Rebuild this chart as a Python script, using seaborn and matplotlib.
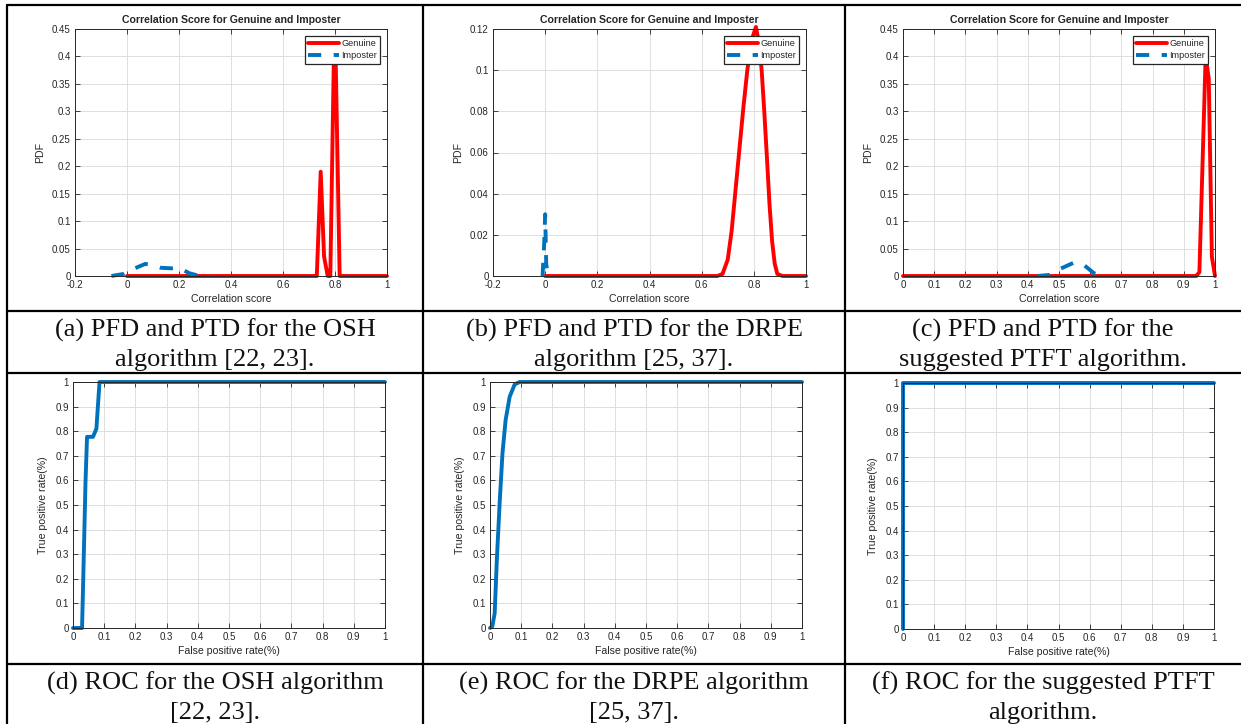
import numpy as np
import pandas as pd
import matplotlib
matplotlib.use("Agg")
import matplotlib.pyplot as plt
from matplotlib.lines import Line2D
from matplotlib.ticker import FixedLocator, FuncFormatter
import seaborn as sns

# ---------------- data ----------------
# (a) OSH score distributions
osh_gen_x = [0.0, 0.73, 0.745, 0.758, 0.772, 0.782, 0.796, 0.802, 0.818, 1.0]
osh_gen_y = [0.0, 0.0, 0.19, 0.035, 0.0, 0.0, 0.41, 0.41, 0.0, 0.0]
osh_imp_x = [-0.06, -0.01, 0.02, 0.07, 0.10, 0.13, 0.17, 0.20, 0.24, 0.28, 0.32]
osh_imp_y = [0.0, 0.004, 0.012, 0.022, 0.020, 0.015, 0.014, 0.015, 0.005, 0.0, 0.0]

# (b) DRPE score distributions
drpe_gen_x = [0.0, 0.66, 0.68, 0.70, 0.715, 0.73, 0.745, 0.76, 0.775, 0.79, 0.808,
              0.82, 0.83, 0.84, 0.85, 0.86, 0.87, 0.88, 0.89, 0.91, 1.0]
drpe_gen_y = [0.0, 0.0, 0.001, 0.008, 0.022, 0.042, 0.062, 0.082, 0.100, 0.114, 0.121,
              0.113, 0.100, 0.080, 0.058, 0.035, 0.017, 0.006, 0.001, 0.0, 0.0]
drpe_imp_x = [-0.010, -0.004, 0.0, 0.004, 0.010]
drpe_imp_y = [0.0, 0.015, 0.030, 0.006, 0.0]

# (c) PTFT score distributions
ptft_gen_x = [0.0, 0.94, 0.95, 0.97, 0.98, 0.99, 1.0]
ptft_gen_y = [0.0, 0.0, 0.007, 0.40, 0.36, 0.035, 0.0]
ptft_imp_x = [0.43, 0.47, 0.50, 0.55, 0.58, 0.61, 0.63, 0.65]
ptft_imp_y = [0.0, 0.002, 0.012, 0.025, 0.020, 0.006, 0.0, 0.0]

# ROC curves
osh_fpr = [0.0, 0.029, 0.032, 0.040, 0.045, 0.064, 0.075, 0.085, 1.0]
osh_tpr = [0.0, 0.0, 0.155, 0.59, 0.777, 0.777, 0.81, 1.0, 1.0]
drpe_fpr = [0.0, 0.0075, 0.015, 0.022, 0.031, 0.040, 0.050, 0.063, 0.079, 0.095, 1.0]
drpe_tpr = [0.0, 0.007, 0.06, 0.28, 0.51, 0.71, 0.845, 0.94, 0.99, 1.0, 1.0]
ptft_fpr = [0.0, 0.0, 1.0]
ptft_tpr = [0.0, 1.0, 1.0]

# tick values
pdf_xticks_wide = [-0.2, 0.0, 0.2, 0.4, 0.6, 0.8, 1.0]
pdf_xticks_unit = [0.0, 0.1, 0.2, 0.3, 0.4, 0.5, 0.6, 0.7, 0.8, 0.9, 1.0]
pdf_yticks_45 = [0.0, 0.05, 0.1, 0.15, 0.2, 0.25, 0.3, 0.35, 0.4, 0.45]
pdf_yticks_12 = [0.0, 0.02, 0.04, 0.06, 0.08, 0.1, 0.12]
roc_ticks = [0.0, 0.1, 0.2, 0.3, 0.4, 0.5, 0.6, 0.7, 0.8, 0.9, 1.0]

captions = [
    ["(a) PFD and PTD for the OSH", "algorithm [22, 23]."],
    ["(b) PFD and PTD for the DRPE", "algorithm [25, 37]."],
    ["(c) PFD and PTD for the", "suggested PTFT algorithm."],
    ["(d) ROC for the OSH algorithm", "[22, 23]."],
    ["(e) ROC for the DRPE algorithm", "[25, 37]."],
    ["(f) ROC for the suggested PTFT", "algorithm."],
]

# ---------------- style ----------------
sns.set_style("ticks")
plt.rcParams['font.family'] = ['Liberation Sans', 'DejaVu Sans']

W, H = 1241, 724
fig = plt.figure(figsize=(W / 100, H / 100), dpi=100)

RED = "#ff0000"
BLUE = "#0072bd"
DARK = "#262626"
LW = 2.8


def add_ax(left, right, top, bottom):
    return fig.add_axes([left / W, 1 - bottom / H, (right - left) / W, (bottom - top) / H])


def fmt(v, pos=None):
    return f"{v:g}"


def style_ax(ax, xticks, yticks, xlim, ylim, xlabel, ylabel, title=None):
    ax.set_xlim(*xlim)
    ax.set_ylim(*ylim)
    ax.xaxis.set_major_locator(FixedLocator(xticks))
    ax.yaxis.set_major_locator(FixedLocator(yticks))
    ax.xaxis.set_major_formatter(FuncFormatter(fmt))
    ax.yaxis.set_major_formatter(FuncFormatter(fmt))
    ax.grid(True, color="#dedede", linewidth=0.7)
    ax.set_axisbelow(True)
    for s in ax.spines.values():
        s.set_visible(True)
        s.set_color(DARK)
        s.set_linewidth(0.7)
    ax.tick_params(direction="in", length=3.5, width=0.6, top=True, right=True,
                   labelsize=7, colors=DARK, pad=3)
    ax.set_xlabel(xlabel, fontsize=7.6, color=DARK, labelpad=3)
    ax.set_ylabel(ylabel, fontsize=7.6, color=DARK, labelpad=5)
    if title:
        ax.set_title(title, fontsize=7.6, fontweight="bold", pad=4)


def pdf_plot(ax, gx, gy, ix, iy):
    sns.lineplot(data=pd.DataFrame({"x": gx, "y": gy}), x="x", y="y", ax=ax, sort=False,
                 estimator=None, color=RED, linewidth=LW, label="Genuine", clip_on=False)
    sns.lineplot(data=pd.DataFrame({"x": ix, "y": iy}), x="x", y="y", ax=ax, sort=False,
                 estimator=None, color=BLUE, linewidth=LW, label="Imposter",
                 dashes=False, linestyle=(0, (3.4, 3.2)), clip_on=False)
    leg = ax.legend(loc="upper right", fontsize=6.6, frameon=True, fancybox=False,
                    handlelength=3.4, borderaxespad=0.75, borderpad=0.35,
                    labelspacing=0.35, handletextpad=0.2, framealpha=1.0)
    leg.get_frame().set_edgecolor(DARK)
    leg.get_frame().set_linewidth(0.9)


def roc_plot(ax, fx, ty):
    sns.lineplot(data=pd.DataFrame({"x": fx, "y": ty}), x="x", y="y", ax=ax, sort=False,
                 estimator=None, color=BLUE, linewidth=LW, clip_on=False)


# (a)
ax = add_ax(75, 387, 29, 276)
pdf_plot(ax, osh_gen_x, osh_gen_y, osh_imp_x, osh_imp_y)
style_ax(ax, pdf_xticks_wide, pdf_yticks_45, (-0.2, 1.0), (0, 0.45),
         "Correlation score", "PDF", "Correlation Score for Genuine and Imposter")
# (b)
ax = add_ax(493, 806, 29, 276)
pdf_plot(ax, drpe_gen_x, drpe_gen_y, drpe_imp_x, drpe_imp_y)
style_ax(ax, pdf_xticks_wide, pdf_yticks_12, (-0.2, 1.0), (0, 0.12),
         "Correlation score", "PDF", "Correlation Score for Genuine and Imposter")
# (c)
ax = add_ax(903, 1215, 29, 276)
pdf_plot(ax, ptft_gen_x, ptft_gen_y, ptft_imp_x, ptft_imp_y)
style_ax(ax, pdf_xticks_unit, pdf_yticks_45, (0, 1.0), (0, 0.45),
         "Correlation score", "PDF", "Correlation Score for Genuine and Imposter")
# (d)
ax = add_ax(73, 385, 382, 628)
roc_plot(ax, osh_fpr, osh_tpr)
style_ax(ax, roc_ticks, roc_ticks, (0, 1), (0, 1),
         "False positive rate(%)", "True positive rate(%)")
# (e)
ax = add_ax(490, 802, 382, 628)
roc_plot(ax, drpe_fpr, drpe_tpr)
style_ax(ax, roc_ticks, roc_ticks, (0, 1), (0, 1),
         "False positive rate(%)", "True positive rate(%)")
# (f)
ax = add_ax(903, 1214, 383, 629)
roc_plot(ax, ptft_fpr, ptft_tpr)
style_ax(ax, roc_ticks, roc_ticks, (0, 1), (0, 1),
         "False positive rate(%)", "True positive rate(%)")

# ---------------- table frame ----------------
def hline(y, x0=7, x1=W):
    fig.add_artist(Line2D([x0 / W, x1 / W], [1 - y / H, 1 - y / H],
                          transform=fig.transFigure, color="black", linewidth=1.6))


def vline(x, y0=5.3, y1=H):
    fig.add_artist(Line2D([x / W, x / W], [1 - y0 / H, 1 - y1 / H],
                          transform=fig.transFigure, color="black", linewidth=1.6))


for y in (5.3, 310.7, 373.3, 664):
    hline(y)
for x in (7, 423.3, 845):
    vline(x)

# ---------------- captions ----------------
col_centers = [215, 634, 1043]
row_baselines = [(337, 366), (690, 719)]
for i, (l1, l2) in enumerate(captions):
    r, c = divmod(i, 3)
    for txt, yb in zip((l1, l2), row_baselines[r]):
        fig.text(col_centers[c] / W, 1 - yb / H, txt, ha="center", va="baseline",
                 fontsize=19, family=["Liberation Serif", "DejaVu Serif"], color="#111111")

fig.savefig("out.png", dpi=100)
